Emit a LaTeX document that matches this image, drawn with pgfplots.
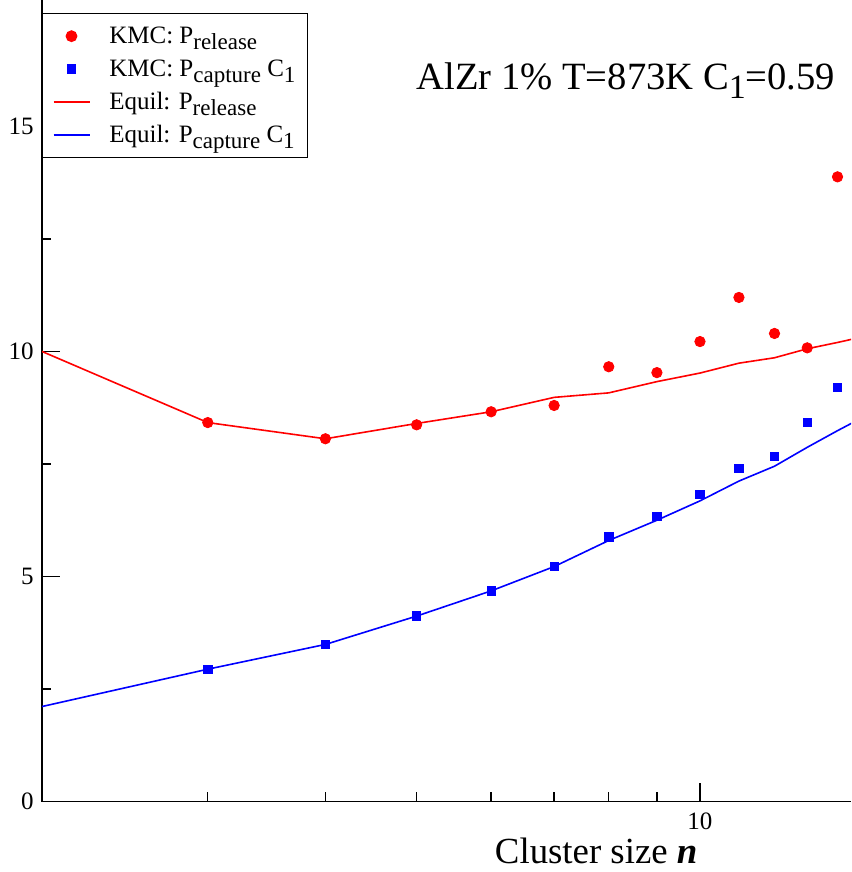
\documentclass[border=0pt]{standalone}
\usepackage{fontspec}
\setmainfont{Liberation Serif}
\usepackage{pgfplots}
\pgfplotsset{compat=1.18}
\definecolor{gred}{RGB}{255,0,0}
\definecolor{gblue}{RGB}{0,0,255}
\newcommand{\lsub}[1]{\raisebox{-3pt}{\fontsize{11.5}{13}\selectfont #1}}
\newcommand{\asub}[1]{\raisebox{-4.5pt}{\fontsize{17}{20}\selectfont #1}}
\newcommand{\lstrut}{\rule[-4.5pt]{0pt}{13.5pt}}
\begin{document}
\begin{tikzpicture}
\begin{axis}[
  name=ax,
  scale only axis,
  width=404.5pt, height=400.75pt,
  xmode=log, xmin=2, xmax=14.47, ymin=0, ymax=17.81,
  axis lines=left, axis line style={-, line width=0.7pt},
  tick align=inside,
  xtick={10}, xticklabels={10}, minor xtick={3,4,5,6,7,8,9},
  ytick={0,5,10,15}, minor ytick={2.5,7.5,12.5,17.5},
  major tick length=9pt, minor tick length=4.5pt,
  every tick/.style={black, line width=0.7pt},
  tick label style={font=\fontsize{12.5}{14}\selectfont},
  /pgf/number format/assume math mode=true,
  xticklabel style={anchor=base, inner sep=0pt, yshift=-13.75pt},
  yticklabel style={anchor=east, inner sep=0pt, xshift=-4pt},
  xlabel={Cluster size \textbf{\textit{n}}},
  xlabel style={at={(axis description cs:0.685,0)}, anchor=base, yshift=-30.75pt, font=\fontsize{18.4}{22}\selectfont, inner sep=0pt},
  legend cell align=left,
  legend style={at={(axis description cs:0,0.9838)}, anchor=north west, draw=black, line width=0.7pt, fill=white,
    font=\fontsize{12.5}{14}\selectfont, row sep=4pt, column sep=8.5pt, inner xsep=5pt, inner ysep=5pt,
    nodes={inner sep=1pt}},
  legend image code/.code={\draw[mark repeat=2,mark phase=2,#1] plot coordinates {(0pt,0pt) (9pt,0pt) (18pt,0pt)};},
]
\addplot[only marks, mark=*, mark size=2.6pt, color=gred] coordinates {
(3,8.42) (4,8.06) (5,8.37) (6,8.66) (7,8.80) (8,9.66) (9,9.53) (10,10.22) (11,11.20) (12,10.40) (13,10.08) (14,13.88)};
\addlegendentry{\lstrut KMC: P\lsub{release}}
\addplot[only marks, mark=square*, mark size=2.1pt, color=gblue] coordinates {
(3,2.94) (4,3.49) (5,4.12) (6,4.68) (7,5.22) (8,5.88) (9,6.34) (10,6.83) (11,7.40) (12,7.67) (13,8.42) (14,9.20)};
\addlegendentry{\lstrut KMC: P\lsub{capture} C\lsub{1}}
\addplot[no marks, color=gred, line width=0.8pt] coordinates {
(2,10.0) (3,8.42) (4,8.06) (5,8.40) (6,8.66) (7,8.98) (8,9.08) (9,9.33) (10,9.52) (11,9.74) (12,9.86) (13,10.06) (14,10.20) (15,10.34)};
\addlegendentry{\lstrut Equil: P\lsub{release}}
\addplot[no marks, color=gblue, line width=0.8pt] coordinates {
(2,2.11) (3,2.94) (4,3.49) (5,4.12) (6,4.68) (7,5.22) (8,5.80) (9,6.25) (10,6.68) (11,7.12) (12,7.45) (13,7.87) (14,8.24) (15,8.57)};
\addlegendentry{\lstrut Equil: P\lsub{capture} C\lsub{1}}
\node[anchor=base east, font=\fontsize{19.3}{22}\selectfont, inner sep=0pt] at (axis description cs:0.981,0.8886) {AlZr 1\% T=873K C\asub{1}=0.59};
\end{axis}
\pgfresetboundingbox
\useasboundingbox ([xshift=-21pt,yshift=-35.25pt]ax.south west) rectangle (ax.north east);
\end{tikzpicture}
\end{document}
